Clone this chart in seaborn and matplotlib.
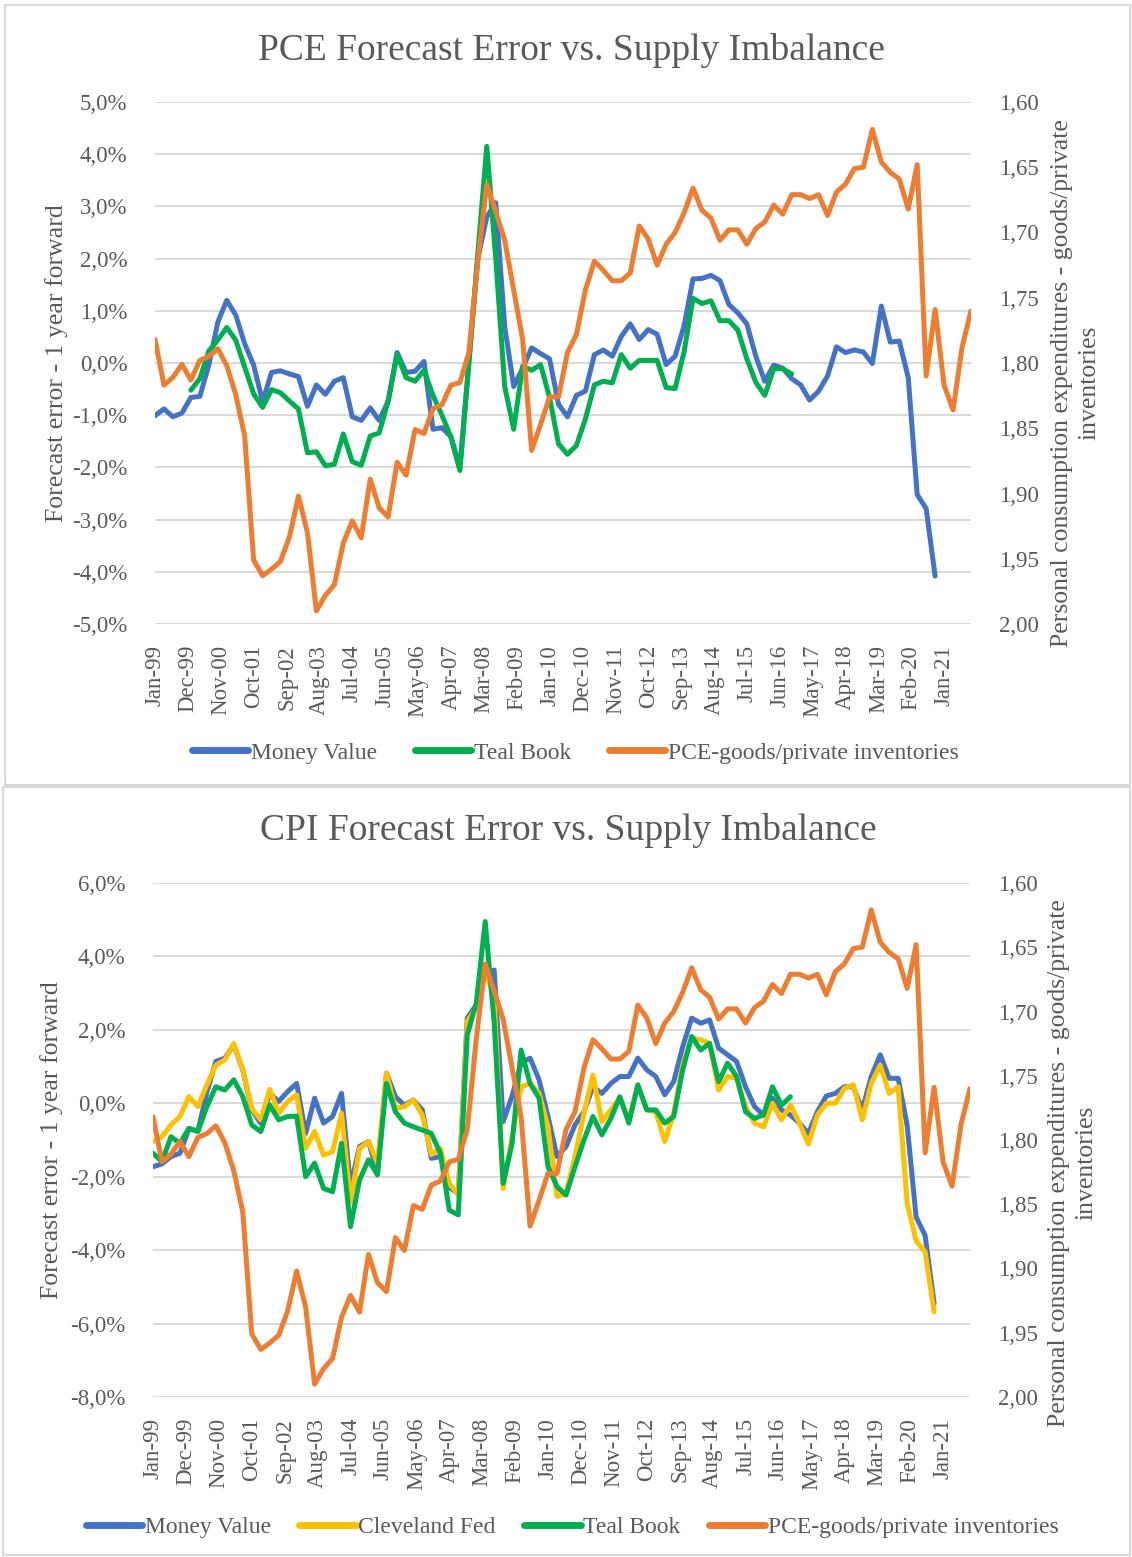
import numpy as np
import pandas as pd
import matplotlib
matplotlib.use("Agg")
import matplotlib.pyplot as plt
from matplotlib.ticker import FuncFormatter
from matplotlib.lines import Line2D
from matplotlib.patches import Rectangle
import seaborn as sns

# quarterly observations starting Jan-99 (index i -> month 3*i)
pce_inventories = [
    1.782, 1.817, 1.811, 1.801, 1.813, 1.798, 1.795, 1.789, 1.802, 1.824,
    1.856, 1.951, 1.963, 1.958, 1.952, 1.933, 1.902, 1.930, 1.990, 1.978,
    1.970, 1.938, 1.921, 1.934, 1.889, 1.911, 1.918, 1.876, 1.886, 1.851,
    1.854, 1.835, 1.832, 1.817, 1.815, 1.792, 1.722, 1.663, 1.684, 1.706,
    1.744, 1.782, 1.867, 1.847, 1.826, 1.826, 1.792, 1.778, 1.744, 1.722,
    1.729, 1.737, 1.737, 1.731, 1.695, 1.705, 1.725, 1.709, 1.700, 1.685,
    1.666, 1.683, 1.689, 1.706, 1.698, 1.698, 1.709, 1.697, 1.692, 1.679,
    1.686, 1.671, 1.671, 1.674, 1.671, 1.687, 1.669, 1.663, 1.651, 1.650,
    1.621, 1.646, 1.654, 1.659, 1.682, 1.648, 1.810, 1.759, 1.817, 1.836,
    1.788, 1.760,
]

pce_money_value = [
    -1.01, -0.88, -1.03, -0.96, -0.66, -0.64, -0.04, 0.78, 1.20, 0.92,
    0.37, -0.04, -0.74, -0.18, -0.15, -0.21, -0.26, -0.83, -0.42, -0.60,
    -0.35, -0.28, -1.03, -1.10, -0.86, -1.10, -0.73, 0.20, -0.18, -0.16,
    0.03, -1.27, -1.24, -1.41, -2.00, 0.00, 2.00, 2.80, 3.07, 0.70,
    -0.45, -0.10, 0.29, 0.18, 0.08, -0.79, -1.03, -0.62, -0.54, 0.16,
    0.25, 0.13, 0.51, 0.75, 0.45, 0.64, 0.55, -0.03, 0.13, 0.71,
    1.61, 1.62, 1.68, 1.58, 1.12, 0.96, 0.75, 0.13, -0.35, -0.04,
    -0.10, -0.30, -0.42, -0.71, -0.54, -0.25, 0.31, 0.20, 0.25, 0.21,
    -0.01, 1.09, 0.40, 0.42, -0.28, -2.52, -2.79, -4.08,
]

# Teal Book (PCE) starts at the 5th quarter (Jan-00)
pce_teal_start = 4
pce_teal_book = [
    -0.52, -0.30, 0.23, 0.44, 0.68, 0.44,
    -0.08, -0.59, -0.85, -0.51, -0.57, -0.73, -0.88, -1.72, -1.70, -1.97,
    -1.94, -1.36, -1.89, -1.96, -1.40, -1.34, -0.73, 0.16, -0.28, -0.35,
    -0.14, -0.62, -1.00, -1.42, -2.06, 0.00, 2.10, 4.15, 2.00, -0.45,
    -1.27, -0.06, -0.14, -0.03, -0.66, -1.55, -1.75, -1.58, -1.07, -0.42,
    -0.35, -0.38, 0.16, -0.10, 0.05, 0.05, 0.05, -0.47, -0.49, 0.21,
    1.24, 1.14, 1.19, 0.81, 0.81, 0.63, 0.08, -0.37, -0.62, -0.11,
    -0.11, -0.21,
]

cpi_money_value = [
    -1.73, -1.65, -1.45, -1.36, -0.70, -0.75, 0.30, 1.14, 1.23, 1.59,
    0.91, -0.18, -0.54, 0.27, 0.05, 0.32, 0.54, -0.82, 0.14, -0.54,
    -0.36, 0.27, -2.27, -1.18, -1.04, -1.90, 0.82, 0.18, -0.05, 0.09,
    -0.18, -1.50, -1.45, -2.30, -2.45, 2.32, 2.68, 3.54, 3.63, -0.50,
    0.20, 1.10, 1.23, 0.64, -0.36, -1.45, -1.18, -0.59, -0.23, 0.45,
    0.27, 0.54, 0.73, 0.73, 1.23, 0.91, 0.73, 0.23, 0.59, 1.54,
    2.32, 2.18, 2.27, 1.50, 1.32, 1.14, 0.45, -0.09, -0.32, 0.14,
    -0.18, -0.32, -0.54, -0.82, -0.23, 0.20, 0.27, 0.45, 0.45, -0.18,
    0.73, 1.32, 0.68, 0.68, -0.60, -3.10, -3.60, -5.45,
]

cpi_cleveland_fed = [
    -1.04, -0.91, -0.59, -0.36, 0.18, -0.09, 0.50, 1.04, 1.18, 1.63,
    0.91, -0.14, -0.45, 0.38, -0.27, 0.05, 0.23, -1.23, -0.77, -1.41,
    -1.32, -0.27, -2.68, -1.23, -1.04, -1.63, 0.82, -0.14, -0.09, 0.09,
    -0.32, -1.40, -1.23, -2.18, -2.50, 2.23, 2.60, 3.60, 2.90, -2.32,
    -0.90, 0.45, 0.54, 0.27, -0.64, -2.54, -2.45, -1.45, -0.27, 0.77,
    -0.50, -0.18, 0.14, -0.45, 0.50, -0.18, -0.23, -1.04, -0.27, 1.04,
    1.77, 1.73, 1.63, 0.36, 0.73, 0.68, -0.09, -0.54, -0.64, 0.00,
    -0.45, -0.05, -0.54, -1.11, -0.32, 0.00, 0.00, 0.41, 0.50, -0.45,
    0.54, 1.04, 0.27, 0.45, -2.72, -3.75, -4.04, -5.68,
]

cpi_teal_book = [
    -1.36, -1.59, -0.91, -1.09, -0.68, -0.77, -0.09, 0.45, 0.36, 0.64,
    0.18, -0.59, -0.77, -0.05, -0.45, -0.36, -0.35, -2.00, -1.63, -2.32,
    -2.41, -1.09, -3.36, -2.09, -1.54, -1.95, 0.54, -0.23, -0.54, -0.64,
    -0.73, -0.82, -1.36, -2.91, -3.04, 1.86, 2.72, 4.95, 2.20, -2.18,
    -1.09, 1.45, 0.54, 0.14, -1.73, -2.27, -2.50, -1.73, -1.00, -0.36,
    -0.86, -0.41, 0.18, -0.54, 0.50, -0.18, -0.18, -0.54, -0.36, 0.91,
    1.82, 1.45, 1.63, 0.59, 1.09, 0.73, -0.23, -0.41, -0.32, 0.45,
    -0.05, 0.18,
]

tick_months = np.arange(0, 265, 11)
tick_labels = pd.date_range("1999-01-01", periods=len(tick_months), freq="11MS").strftime("%b-%y")

BLUE, GREEN, ORANGE, YELLOW = "#4472C4", "#00B050", "#ED7D31", "#FFC000"
TXT = "#595959"
GRID = "#D9D9D9"
LW = 3.6

sns.set_style("white")
plt.rcParams["font.family"] = ["Liberation Serif", "DejaVu Serif"]
plt.rcParams["text.color"] = TXT

W, H = 1132, 1557
fig = plt.figure(figsize=(W / 100, H / 100), dpi=100)


def months(start, n):
    return 3 * np.arange(start, start + n)


def pct(v, _):
    return f"{v:.1f}%".replace(".", ",")


def ratio(v, _):
    return f"{v:.2f}".replace(".", ",")


def panel(rect, series, ylim, ystep):
    ax = fig.add_axes(rect)
    for vals, start, color in series:
        sns.lineplot(x=months(start, len(vals)), y=vals, ax=ax, color=color, lw=LW,
                     solid_joinstyle="round", solid_capstyle="round", legend=False)
    ax.set_ylim(*ylim)
    ax.set_yticks(np.arange(ylim[0], ylim[1] + 0.01, ystep))
    ax.yaxis.set_major_formatter(FuncFormatter(pct))
    ax.set_xlim(0, 273)
    ax.set_xticks(tick_months)
    ax.set_xticklabels(tick_labels, rotation=90, va="top", ha="center")
    ax.grid(axis="y", color=GRID, lw=1.4)
    ax.set_axisbelow(True)
    ax.tick_params(length=0, labelsize=16.5, labelcolor=TXT, pad=15)
    ax.tick_params(axis="y", pad=20)
    for s in ax.spines.values():
        s.set_visible(False)
    ax.set_xlabel("")
    ax.set_ylabel("")

    ax2 = ax.twinx()
    sns.lineplot(x=months(0, len(pce_inventories)), y=pce_inventories, ax=ax2, color=ORANGE,
                 lw=LW, solid_joinstyle="round", solid_capstyle="round", legend=False)
    ax2.set_ylim(2.0, 1.6)
    ax2.set_yticks(np.arange(1.6, 2.001, 0.05))
    ax2.yaxis.set_major_formatter(FuncFormatter(ratio))
    ax2.tick_params(length=0, labelsize=16.5, labelcolor=TXT, pad=20)
    for s in ax2.spines.values():
        s.set_visible(False)
    ax2.set_ylabel("")
    ax2.set_xlim(0, 273)
    return ax, ax2


def fx(px):
    return px / W


def fy(py):
    return 1 - py / H


# ---- top: PCE ----
panel([fx(155), fy(624), fx(971 - 155), (624 - 102) / H],
      [(pce_money_value, 0, BLUE), (pce_teal_book, pce_teal_start, GREEN)],
      (-5, 5), 1)
fig.text(fx(571), fy(50), "PCE Forecast Error vs. Supply Imbalance", ha="center", va="center", fontsize=27)
fig.text(fx(57), fy(363), "Forecast error - 1 year forward", rotation=90, ha="center", va="center", fontsize=18.5)
fig.text(fx(1076), fy(383), "Personal consumption expenditures - goods/private\ninventories", rotation=90,
         ha="center", va="center", multialignment="center", fontsize=18.5, linespacing=1.3)
h1 = [Line2D([], [], color=c, lw=5, solid_capstyle="round") for c in (BLUE, GREEN, ORANGE)]
fig.legend(h1, ["Money Value", "Teal Book", "PCE-goods/private inventories"], loc="center",
           bbox_to_anchor=(fx(575), fy(753)), ncol=3, frameon=False, fontsize=17,
           handlelength=2.4, handletextpad=0.1, columnspacing=1.6)

# ---- bottom: CPI ----
panel([fx(153), fy(1397), fx(970 - 153), (1397 - 883) / H],
      [(cpi_money_value, 0, BLUE), (cpi_cleveland_fed, 0, YELLOW), (cpi_teal_book, 0, GREEN)],
      (-8, 6), 2)
fig.text(fx(568), fy(831), "CPI Forecast Error vs. Supply Imbalance", ha="center", va="center", fontsize=27)
fig.text(fx(52), fy(1140), "Forecast error - 1 year forward", rotation=90, ha="center", va="center", fontsize=18.5)
fig.text(fx(1073), fy(1163), "Personal consumption expenditures - goods/private\ninventories", rotation=90,
         ha="center", va="center", multialignment="center", fontsize=18.5, linespacing=1.3)
h2 = [Line2D([], [], color=c, lw=5, solid_capstyle="round") for c in (BLUE, YELLOW, GREEN, ORANGE)]
fig.legend(h2, ["Money Value", "Cleveland Fed", "Teal Book", "PCE-goods/private inventories"],
           loc="center", bbox_to_anchor=(fx(572), fy(1527)), ncol=4, frameon=False, fontsize=17,
           handlelength=2.4, handletextpad=0.1, columnspacing=1.2)

# chart borders
fig.add_artist(Rectangle((fx(5), fy(785)), fx(1125), 780 / H, transform=fig.transFigure,
                         fill=False, ec=GRID, lw=1.5))
fig.add_artist(Rectangle((fx(3), fy(1555)), fx(1127), 768 / H, transform=fig.transFigure,
                         fill=False, ec=GRID, lw=1.5))

fig.savefig("out.png", dpi=100)
